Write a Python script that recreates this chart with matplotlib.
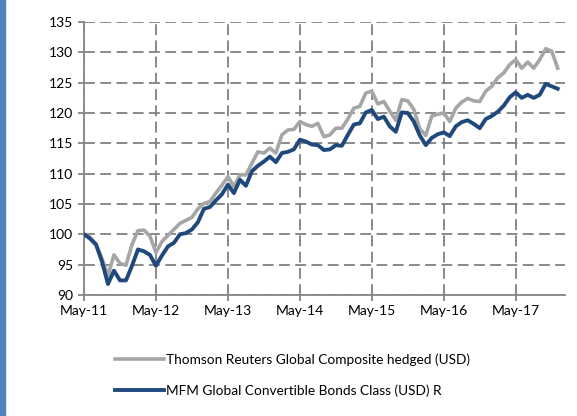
import matplotlib
matplotlib.use("Agg")
import matplotlib.pyplot as plt
import matplotlib.patches as mpatches

# monthly index values, May-11 .. Dec-17
trbc = [100.0, 99.5, 98.4, 96.0, 93.2, 96.6, 95.2, 94.9, 98.3, 100.6,
        100.7, 99.7, 97.0, 98.8, 99.8, 100.8, 101.8, 102.3, 102.8, 104.2,
        105.1, 105.4, 106.8, 108.1, 109.5, 107.9, 109.8, 109.8, 111.7, 113.6,
        113.4, 114.2, 113.4, 116.4, 117.2, 117.3, 118.6, 118.1, 117.8, 118.3,
        116.1, 116.4, 117.5, 117.5, 119.0, 120.8, 121.1, 123.3, 123.6, 121.5,
        121.9, 120.3, 118.8, 122.2, 122.0, 120.6, 117.4, 116.3, 119.5, 119.8,
        120.0, 118.6, 120.8, 121.8, 122.4, 122.0, 121.9, 123.6, 124.4, 125.8,
        126.6, 128.0, 128.8, 127.4, 128.4, 127.4, 128.8, 130.6, 130.2, 127.4]
mfm = [100.0, 99.3, 98.3, 95.5, 91.8, 94.0, 92.4, 92.4, 94.8, 97.5,
       97.2, 96.6, 94.8, 96.5, 98.0, 98.6, 100.0, 100.2, 100.8, 102.0,
       104.2, 104.5, 105.6, 106.6, 108.2, 106.8, 109.0, 108.0, 110.4, 111.3,
       112.0, 112.8, 111.9, 113.4, 113.6, 114.0, 115.6, 115.3, 114.8, 114.7,
       113.9, 114.0, 114.7, 114.6, 116.4, 118.1, 118.3, 120.1, 120.5, 119.0,
       119.4, 117.8, 116.9, 120.1, 120.0, 118.6, 116.3, 114.7, 115.9, 116.5,
       116.8, 116.2, 117.8, 118.5, 118.8, 118.2, 117.5, 119.0, 119.5, 120.2,
       121.2, 122.6, 123.4, 122.5, 123.0, 122.5, 123.0, 124.8, 124.4, 124.0]
tick_labels = ['May-11', 'May-12', 'May-13', 'May-14', 'May-15', 'May-16', 'May-17']
series_names = ['Thomson Reuters Global Composite hedged (USD)',
                'MFM Global Convertible Bonds Class (USD) R']

plt.rcParams['font.family'] = ['Lato', 'DejaVu Sans']
months = list(range(len(mfm)))

fig = plt.figure(figsize=(5.77, 4.16), dpi=100)
ax = fig.add_axes([0.1456, 0.291, 0.979 - 0.1456, 0.947 - 0.291])

# blue strip on the left edge
fig.patches.append(mpatches.Rectangle((0, 0), 5 / 577, 1, transform=fig.transFigure,
                                      color='#4F81BD', zorder=5))

l1, = ax.plot(months, trbc, color='#A6A6A6', lw=2.6, solid_joinstyle='round', zorder=3)
l2, = ax.plot(months, mfm, color='#1F497D', lw=2.8, solid_joinstyle='round', zorder=4)

ax.set_xlim(0, 80.2)
ax.set_ylim(90, 135)
ax.set_yticks(range(90, 136, 5))
ax.set_xticks(range(0, 73, 12))
ax.set_xticklabels(tick_labels)

ax.grid(True, color='#808080', ls=(0, (6, 3)), lw=1.3)
ax.set_axisbelow(True)
for s in ['top', 'right']:
    ax.spines[s].set_visible(False)
for s in ['left', 'bottom']:
    ax.spines[s].set_color('#868686')
    ax.spines[s].set_linewidth(1.3)
ax.tick_params(axis='both', colors='#868686', labelcolor='black', labelsize=10,
               length=4, width=1.3)
ax.tick_params(axis='y', pad=4)

fig.legend([l1, l2], series_names, loc='upper left', bbox_to_anchor=(103 / 577, 1 - 341 / 416),
           frameon=False, fontsize=9.8, handlelength=3.6, handletextpad=0.15,
           labelspacing=1.35)

fig.savefig('out.png', dpi=100)
